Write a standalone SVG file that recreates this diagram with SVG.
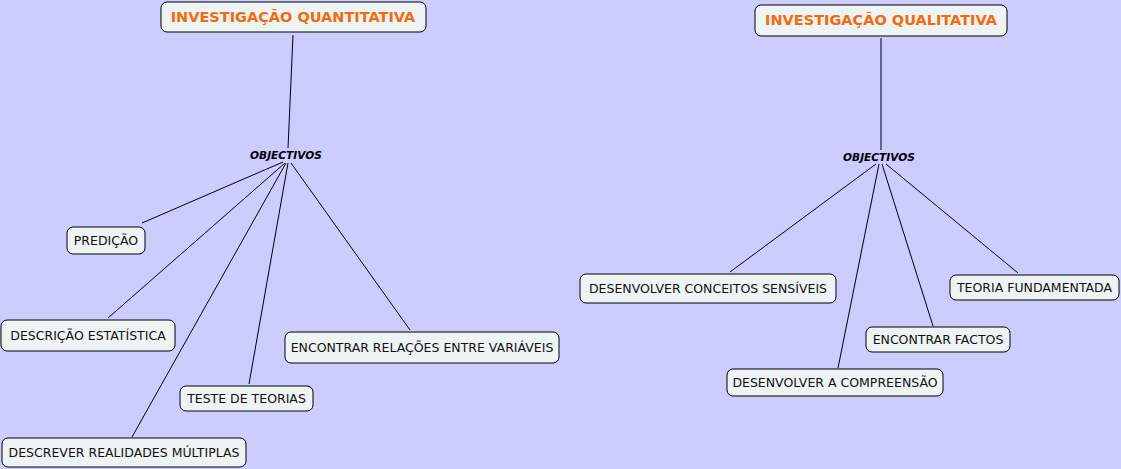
<svg xmlns="http://www.w3.org/2000/svg" width="1121" height="469" viewBox="0 0 1121 469">
<style>
.bg{fill:#ccccff}
.box{fill:#eef3f3;stroke:#000;stroke-width:1}
.t{font-family:"DejaVu Sans",Verdana,sans-serif;font-size:12.5px;fill:#111;text-anchor:middle}
.h{font-family:"DejaVu Sans",Verdana,sans-serif;font-size:14.5px;font-weight:bold;fill:#f26a10;text-anchor:middle}
.o{font-family:"DejaVu Sans",Verdana,sans-serif;font-size:10.6px;font-weight:bold;font-style:italic;fill:#000;text-anchor:middle}
.c line{stroke:#000;stroke-width:1}
</style>
<rect class="bg" x="0" y="0" width="1121" height="469"/>
<g class="c" id="connectors">
<line x1="293" y1="35" x2="288" y2="148"/>
<line x1="283" y1="162" x2="142" y2="223"/>
<line x1="285" y1="163" x2="108" y2="318"/>
<line x1="286" y1="163" x2="132" y2="437"/>
<line x1="288" y1="163" x2="249" y2="384"/>
<line x1="291" y1="163" x2="410" y2="330"/>
<line x1="881" y1="38" x2="881" y2="150"/>
<line x1="876" y1="164" x2="730" y2="272"/>
<line x1="879" y1="164" x2="838" y2="368"/>
<line x1="882" y1="164" x2="933" y2="326"/>
<line x1="886" y1="164" x2="1018" y2="273"/>
</g>
<g id="quantitativa"><rect class="box" x="161" y="2" width="265" height="30" rx="6"/><text class="h" x="293" y="22">INVESTIGAÇÃO QUANTITATIVA</text></g>
<g id="obj-left"><text class="o" x="286" y="159">OBJECTIVOS</text></g>
<g id="predicao"><rect class="box" x="67" y="227" width="78" height="27" rx="6"/><text class="t" x="106" y="245">PREDIÇÃO</text></g>
<g id="descricao"><rect class="box" x="1" y="320" width="174" height="31" rx="6"/><text class="t" x="88" y="340">DESCRIÇÃO ESTATÍSTICA</text></g>
<g id="teste"><rect class="box" x="180" y="386" width="133" height="25" rx="6"/><text class="t" x="246.5" y="403">TESTE DE TEORIAS</text></g>
<g id="relacoes"><rect class="box" x="285" y="332" width="274" height="31" rx="6"/><text class="t" x="422" y="352">ENCONTRAR RELAÇÕES ENTRE VARIÁVEIS</text></g>
<g id="descrever"><rect class="box" x="2" y="438" width="244" height="29" rx="6"/><text class="t" x="124" y="457">DESCREVER REALIDADES MÚLTIPLAS</text></g>
<g id="qualitativa"><rect class="box" x="755" y="5" width="252" height="31" rx="6"/><text class="h" x="881" y="25">INVESTIGAÇÃO QUALITATIVA</text></g>
<g id="obj-right"><text class="o" x="879" y="161">OBJECTIVOS</text></g>
<g id="conceitos"><rect class="box" x="580" y="274" width="256" height="29" rx="6"/><text class="t" x="708" y="293">DESENVOLVER CONCEITOS SENSÍVEIS</text></g>
<g id="teoria"><rect class="box" x="950" y="275" width="169" height="25" rx="6"/><text class="t" x="1034.5" y="292">TEORIA FUNDAMENTADA</text></g>
<g id="factos"><rect class="box" x="866" y="327" width="144" height="25" rx="6"/><text class="t" x="938" y="344">ENCONTRAR FACTOS</text></g>
<g id="compreensao"><rect class="box" x="727" y="369" width="216" height="27" rx="6"/><text class="t" x="835" y="387">DESENVOLVER A COMPREENSÃO</text></g>
</svg>
